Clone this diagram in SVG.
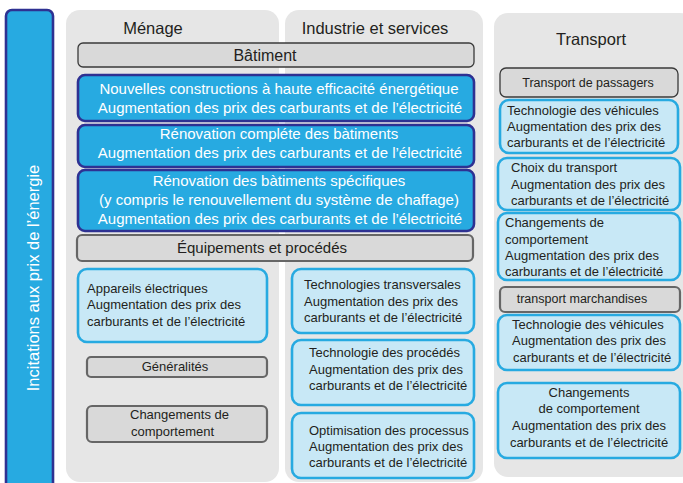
<svg xmlns="http://www.w3.org/2000/svg" width="683" height="483" viewBox="0 0 683 483">
<style>
text{font-family:"Liberation Sans",Arial,sans-serif;fill:#231f20}
.panel{fill:#e6e6e6}
.hdr{font-size:16.5px;text-anchor:middle}
.g1{fill:#d9d9d9;stroke:#3a3a3a;stroke-width:1.3}
.g2{fill:#d9d9d9;stroke:#666;stroke-width:2.2}
.blue{fill:#27aae1;stroke:#2e3192;stroke-width:2.6}
.lb{fill:#c8e8f6;stroke:#27aae1;stroke-width:2.6}
.wt{fill:#fff;font-size:15px;text-anchor:middle}
.t13{font-size:13px}
.c{text-anchor:middle}
</style>
<rect width="683" height="483" fill="#fff"/>
<g id="left-bar">
<rect x="6" y="10" width="47" height="485" rx="6" fill="#27aae1" stroke="#2e3192" stroke-width="2.6"/>
<text transform="translate(39,278) rotate(-90)" style="fill:#fff;font-size:16.5px;text-anchor:middle">Incitations aux prix de l’énergie</text>
</g>
<g id="panel-menage">
<rect class="panel" x="66" y="10" width="213" height="472" rx="14"/>
<text class="hdr" x="153" y="34">Ménage</text>
</g>
<g id="panel-industrie">
<rect class="panel" x="285" y="10" width="198" height="472" rx="14"/>
<text class="hdr" x="375" y="34">Industrie et services</text>
</g>
<g id="panel-transport">
<rect class="panel" x="494" y="13" width="200" height="464" rx="14"/>
<text class="hdr" x="591" y="45">Transport</text>
</g>
<g id="batiment">
<rect class="g1" x="78" y="43" width="396" height="24" rx="5"/>
<text x="265" y="61" style="font-size:16px;text-anchor:middle">Bâtiment</text>
</g>
<g id="nouvelles-constructions">
<rect class="blue" x="78" y="75" width="396" height="46" rx="7"/>
<text class="wt" x="279" y="94">Nouvelles constructions à haute efficacité énergétique</text>
<text class="wt" x="280" y="113">Augmentation des prix des carburants et de l’électricité</text>
</g>
<g id="renovation-complete">
<rect class="blue" x="78" y="125" width="396" height="42" rx="7"/>
<text class="wt" x="279" y="139">Rénovation compléte des bàtiments</text>
<text class="wt" x="280" y="158">Augmentation des prix des carburants et de l’électricité</text>
</g>
<g id="renovation-specifique">
<rect class="blue" x="78" y="170" width="396" height="61" rx="7"/>
<text class="wt" x="279" y="186">Rénovation des bàtiments spécifiques</text>
<text class="wt" x="279" y="205">(y compris le renouvellement du système de chaffage)</text>
<text class="wt" x="280" y="224">Augmentation des prix des carburants et de l’électricité</text>
</g>
<g id="equipements">
<rect class="g2" x="77" y="235" width="396" height="26" rx="5"/>
<text x="262" y="253" style="font-size:15px;text-anchor:middle">Équipements et procédés</text>
</g>
<g id="appareils-electriques">
<rect class="lb" x="78" y="269" width="189" height="73" rx="9"/>
<text class="t13" x="87" y="293">Appareils électriques</text>
<text class="t13" x="87" y="309">Augmentation des prix des</text>
<text class="t13" x="87" y="326">carburants et de l’électricité</text>
</g>
<g id="generalites">
<rect class="g2" x="87" y="357" width="180" height="20" rx="4"/>
<text class="t13 c" x="175" y="371">Généralités</text>
</g>
<g id="changements-menage">
<rect class="g2" x="87" y="406" width="180" height="36" rx="5"/>
<text class="t13" x="130" y="419">Changements de</text>
<text class="t13" x="131" y="436">comportement</text>
</g>
<g id="technologies-transversales">
<rect class="lb" x="292" y="269" width="182" height="64" rx="9"/>
<text class="t13" x="304" y="289">Technologies transversales</text>
<text class="t13" x="304" y="306">Augmentation des prix des</text>
<text class="t13" x="304" y="322">carburants et de l’électricité</text>
</g>
<g id="technologie-procedes">
<rect class="lb" x="292" y="340" width="182" height="65" rx="9"/>
<text class="t13" x="309" y="357">Technologie des procédés</text>
<text class="t13" x="309" y="374">Augmentation des prix des</text>
<text class="t13" x="309" y="390">carburants et de l’électricité</text>
</g>
<g id="optimisation-processus">
<rect class="lb" x="292" y="413" width="182" height="65" rx="9"/>
<text class="t13" x="309" y="435">Optimisation des processus</text>
<text class="t13" x="309" y="451">Augmentation des prix des</text>
<text class="t13" x="309" y="467">carburants et de l’électricité</text>
</g>
<g id="transport-passagers">
<rect class="g1" x="500" y="68" width="178" height="29" rx="6"/>
<text x="588" y="87" style="font-size:12.5px;text-anchor:middle">Transport de passagers</text>
</g>
<g id="technologie-vehicules-1">
<rect class="lb" x="500" y="100" width="178" height="53" rx="9"/>
<text class="t13" x="507" y="115">Technologie des véhicules</text>
<text class="t13" x="507" y="131">Augmentation des prix des</text>
<text class="t13" x="507" y="147">carburants et de l’électricité</text>
</g>
<g id="choix-transport">
<rect class="lb" x="498" y="158" width="182" height="52" rx="9"/>
<text class="t13" x="511" y="172">Choix du transport</text>
<text class="t13" x="511" y="189">Augmentation des prix des</text>
<text class="t13" x="511" y="205">carburants et de l’électricité</text>
</g>
<g id="changements-passagers">
<rect class="lb" x="498" y="213" width="182" height="67" rx="9"/>
<text class="t13" x="505" y="227">Changements de</text>
<text class="t13" x="505" y="244">comportement</text>
<text class="t13" x="505" y="260">Augmentation des prix des</text>
<text class="t13" x="505" y="276">carburants et de l’électricité</text>
</g>
<g id="transport-marchandises">
<rect class="g2" x="500" y="287" width="180" height="25" rx="5"/>
<text x="582" y="303" style="font-size:12.5px;text-anchor:middle">transport marchandises</text>
</g>
<g id="technologie-vehicules-2">
<rect class="lb" x="498" y="315" width="182" height="55" rx="9"/>
<text class="t13" x="512" y="329">Technologie des véhicules</text>
<text class="t13" x="512" y="345">Augmentation des prix des</text>
<text class="t13" x="513" y="362">carburants et de l’électricité</text>
</g>
<g id="changements-marchandises">
<rect class="lb" x="498" y="383" width="182" height="75" rx="9"/>
<text class="t13 c" x="589" y="397">Changements</text>
<text class="t13 c" x="589" y="413">de comportement</text>
<text class="t13 c" x="589" y="430">Augmentation des prix des</text>
<text class="t13 c" x="589" y="447">carburants et de l’électricité</text>
</g>
<g id="connectors"></g>
</svg>
